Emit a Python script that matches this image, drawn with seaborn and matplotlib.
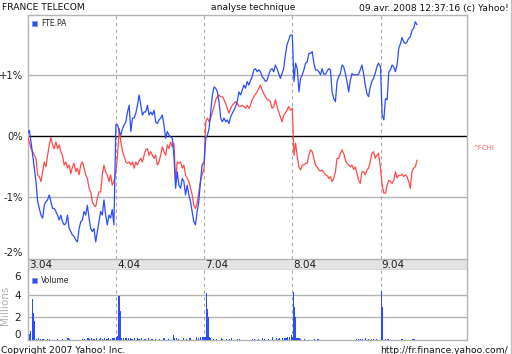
import matplotlib
matplotlib.use("Agg")
import matplotlib.pyplot as plt
import seaborn as sns
import pandas as pd
from matplotlib.patches import Rectangle
from matplotlib.lines import Line2D

# ---------------- data ----------------
day_labels = ["3.04", "4.04", "7.04", "8.04", "9.04"]
pct_ticks = [1, 0, -1, -2]
pct_tick_labels = ["+1%", "0%", "-1%", "-2%"]
vol_ticks = [0, 2, 4, 6]

# % change vs previous close, one sample every ~9.6 min of each session
fte_d1 = [0.05, 0.10, -0.09, -0.31, -0.52, -0.74, -1.07, -1.18, -1.29, -1.34,
          -1.13, -1.07, -1.04, -0.96, -1.07, -1.18, -1.18, -1.23, -1.29, -1.37,
          -1.29, -1.40, -1.45, -1.43, -1.29, -1.51, -1.56, -1.62, -1.64, -1.70,
          -1.73, -1.51, -1.40, -1.37, -1.23, -1.29, -1.13, -1.34, -1.51, -1.56,
          -1.51, -1.73, -1.56, -1.40, -1.23, -1.29, -1.04, -1.29, -1.45, -1.29,
          -1.34, -1.20, -1.45]
fte_d2 = [0.19, 0.19, 0.08, 0.02, 0.13, 0.19, 0.24, 0.40, 0.51, 0.08,
          0.30, 0.30, 0.38, 0.51, 0.68, 0.51, 0.35, 0.40, 0.40, 0.51,
          0.35, 0.40, 0.35, 0.43, 0.24, 0.21, 0.27, 0.30, 0.35, 0.19,
          -0.03, 0.08, 0.02, -0.01, -0.03, -0.31, -0.85, -0.58, -0.80, -0.85,
          -0.69, -0.74, -0.96, -0.80, -0.96, -1.07, -1.23, -1.40, -1.45, -1.23,
          -1.07, -0.74, -0.47]
fte_d3 = [-0.42, -0.03, 0.02, 0.13, 0.40, 0.68, 0.81, 0.79, 0.73, 0.57,
          0.30, 0.24, 0.30, 0.24, 0.27, 0.21, 0.32, 0.38, 0.43, 0.49,
          0.57, 0.73, 0.68, 0.76, 0.84, 0.79, 0.90, 0.84, 0.92, 0.98,
          1.09, 1.11, 1.06, 1.09, 1.06, 0.98, 0.95, 0.90, 0.92, 1.01,
          1.09, 1.11, 1.06, 1.17, 1.11, 1.03, 0.95, 1.03, 1.11, 1.33,
          1.50, 1.58, 1.66]
fte_d4 = [1.66, 0.90, 1.20, 1.11, 0.73, 0.95, 1.01, 1.09, 1.20, 1.22,
          1.36, 1.36, 1.39, 1.20, 1.09, 1.09, 1.06, 1.01, 1.11, 1.02,
          1.02, 1.07, 1.11, 1.09, 0.73, 0.62, 0.57, 0.90, 0.98, 1.03,
          1.17, 1.14, 1.03, 0.90, 0.73, 0.92, 1.03, 1.01, 1.01, 1.01,
          1.02, 1.09, 1.17, 1.03, 0.84, 0.70, 0.65, 0.81, 0.90, 0.95,
          1.03, 1.14, 1.20]
fte_d5 = [1.14, 0.35, 0.27, 0.62, 0.60, 1.06, 1.09, 1.17, 1.14, 1.06,
          1.17, 1.44, 1.52, 1.62, 1.55, 1.52, 1.55, 1.61, 1.63, 1.74,
          1.77, 1.88, 1.83]

fchi_d1 = [-0.01, -0.09, -0.20, -0.25, -0.31, -0.36, -0.63, -0.66, -0.74, -0.58,
           -0.42, -0.50, -0.31, -0.14, -0.02, -0.14, -0.20, -0.09, -0.20, -0.14,
           -0.25, -0.31, -0.47, -0.42, -0.52, -0.47, -0.61, -0.50, -0.44, -0.58,
           -0.52, -0.63, -0.47, -0.42, -0.52, -0.63, -0.69, -0.85, -0.91, -1.07,
           -1.13, -1.15, -1.02, -0.91, -0.91, -0.63, -0.47, -0.58, -0.63, -0.74,
           -0.63, -0.80, -0.74]
fchi_d2 = [-0.58, -0.31, 0.13, -0.09, -0.25, -0.33, -0.42, -0.44, -0.42, -0.47,
           -0.42, -0.52, -0.42, -0.47, -0.40, -0.36, -0.42, -0.31, -0.22, -0.20,
           -0.31, -0.25, -0.31, -0.36, -0.31, -0.47, -0.42, -0.31, -0.17, -0.25,
           -0.31, -0.14, -0.20, -0.09, -0.17, -0.11, -0.74, -0.42, -0.44, -0.42,
           -0.52, -0.47, -0.63, -0.69, -0.74, -0.85, -0.96, -1.13, -1.18, -1.10,
           -0.91, -0.74, -0.63]
fchi_d3 = [-0.52, 0.24, 0.30, 0.24, 0.30, 0.40, 0.49, 0.60, 0.65, 0.68,
           0.65, 0.65, 0.60, 0.54, 0.46, 0.38, 0.46, 0.51, 0.54, 0.57,
           0.54, 0.49, 0.49, 0.51, 0.49, 0.46, 0.51, 0.46, 0.51, 0.60,
           0.65, 0.69, 0.73, 0.79, 0.84, 0.76, 0.70, 0.65, 0.60, 0.60,
           0.57, 0.46, 0.49, 0.60, 0.49, 0.40, 0.32, 0.24, 0.35, 0.38,
           0.43, 0.49, 0.43]
fchi_d4 = [0.46, -0.31, -0.11, -0.33, -0.50, -0.55, -0.47, -0.47, -0.44, -0.44,
           -0.31, -0.22, -0.25, -0.36, -0.47, -0.50, -0.55, -0.57, -0.55, -0.59,
           -0.63, -0.64, -0.69, -0.66, -0.74, -0.69, -0.58, -0.36, -0.36, -0.28,
           -0.22, -0.28, -0.39, -0.44, -0.47, -0.50, -0.47, -0.54, -0.50, -0.61,
           -0.72, -0.77, -0.58, -0.58, -0.63, -0.55, -0.52, -0.42, -0.28, -0.25,
           -0.36, -0.31, -0.28]
fchi_d5 = [-0.52, -0.80, -0.93, -0.93, -0.80, -0.72, -0.74, -0.77, -0.72, -0.58,
           -0.68, -0.64, -0.64, -0.62, -0.66, -0.63, -0.66, -0.74, -0.85, -0.58,
           -0.52, -0.50, -0.39]

SAMPLE_STEP = 5 / 266  # fraction of a session between two price samples

# volume (millions) : session index, 5-minute slot within session, value
vol_day = ([0] * 32 + [1] * 35 + [2] * 33 + [3] * 20 + [4] * 10)
vol_slot = [1, 2, 3, 5, 6, 7, 10, 12, 14, 17, 22, 25, 34, 40, 46, 48, 63, 65, 69, 71,
            73, 76, 79, 82, 84, 86, 88, 91, 93, 95, 98, 100,
            0, 1, 3, 4, 5, 6, 8, 10, 12, 14, 16, 18, 21, 24, 26, 29, 33, 37, 41, 45,
            50, 55, 60, 66, 67, 69, 72, 78, 81, 85, 93, 95, 97, 99, 101,
            0, 1, 2, 3, 4, 6, 7, 10, 14, 19, 21, 25, 29, 31, 38, 40, 55, 58, 62, 67,
            69, 74, 78, 83, 85, 87, 90, 92, 94, 96, 98, 100, 101,
            0, 1, 2, 3, 4, 5, 7, 9, 13, 25, 29, 74, 76, 78, 81, 84, 87, 91, 93, 97,
            0, 1, 2, 5, 8, 24, 25, 36, 37, 38]
vol_m = [0.2, 0.5, 0.8, 3.6, 2.4, 1.7, 0.1, 0.15, 0.1, 0.1, 0.1, 0.1, 0.1, 0.1, 0.15, 0.1, 0.1, 0.1, 0.15, 0.1,
         0.15, 0.1, 0.15, 0.1, 0.15, 0.1, 0.15, 0.1, 0.15, 0.1, 0.15, 0.2,
         0.3, 0.35, 3.9, 2.6, 1.9, 0.2, 0.15, 0.2, 0.15, 0.2, 0.15, 0.1, 0.15, 0.2, 0.1, 0.15, 0.1, 0.15, 0.1, 0.1,
         0.1, 0.15, 0.1, 0.45, 0.2, 0.15, 0.1, 0.15, 0.1, 0.2, 0.25, 0.2, 0.3, 0.25, 0.3,
         0.25, 0.25, 4.1, 2.7, 2.0, 0.25, 0.15, 0.1, 0.1, 0.15, 0.1, 0.1, 0.1, 0.15, 0.1, 0.1, 0.1, 0.1, 0.1, 0.15,
         0.1, 0.1, 0.3, 0.15, 0.1, 0.15, 0.2, 0.15, 0.2, 0.25, 0.3, 0.45, 0.3,
         0.3, 4.2, 2.9, 2.0, 0.2, 0.15, 0.2, 0.1, 0.1, 0.1, 0.1, 0.1, 0.1, 0.1, 0.1, 0.15, 0.1, 0.1, 0.1, 0.1,
         4.3, 2.9, 2.4, 0.1, 0.1, 0.1, 0.1, 0.1, 0.1, 0.1]
SLOTS_PER_DAY = 102

# ---------------- build tables ----------------
rows = []
for name, days in [("FTE.PA", [fte_d1, fte_d2, fte_d3, fte_d4, fte_d5]),
                   ("^FCHI", [fchi_d1, fchi_d2, fchi_d3, fchi_d4, fchi_d5])]:
    for d, vals in enumerate(days):
        for i, v in enumerate(vals):
            rows.append({"t": d + i * SAMPLE_STEP, "pct": v, "serie": name})
df = pd.DataFrame(rows)
vol_df = pd.DataFrame({"t": [d + s / SLOTS_PER_DAY for d, s in zip(vol_day, vol_slot)],
                       "vol": vol_m})

# ---------------- style ----------------
sns.set_theme(style="white")
plt.rcParams["font.family"] = ["DejaVu Sans"]
BLUE = "#2a4dff"
RED = "#ff4a4a"
GRID = "#b4b4b4"
DASH = "#a8a8a8"

W, H = 512, 354
fig = plt.figure(figsize=(W / 100, H / 100), dpi=100)
fig.patch.set_facecolor("white")

def fx(x):
    return x / W

def fy(y):
    return 1 - y / H

L, R = 27.7, 467.0
ax = fig.add_axes([fx(L), fy(259), fx(R) - fx(L), (259 - 15) / H])
axb = fig.add_axes([fx(L), fy(270), fx(R) - fx(L), 11 / H])
axv = fig.add_axes([fx(L), fy(340), fx(R) - fx(L), 70 / H])

PX_PER_DAY = 88.2
XMAX = (R - L) / PX_PER_DAY

# ---- main price panel ----
sns.lineplot(data=df, x="t", y="pct", hue="serie", palette={"FTE.PA": BLUE, "^FCHI": RED},
             hue_order=["^FCHI", "FTE.PA"], estimator=None, sort=False, legend=False,
             linewidth=0.9, ax=ax, zorder=3)
ax.set_xlim(0, XMAX)
ax.set_ylim(-2.01, 1.99)
ax.set_xlabel("")
ax.set_ylabel("")
for yv in (1, -1):
    ax.axhline(yv, color=GRID, lw=1.0, zorder=1)
ax.axhline(0, color="black", lw=1.0, zorder=2)
for d in range(1, 5):
    ax.axvline(d, color=DASH, lw=0.8, ls=(0, (3, 3)), zorder=1)
ax.set_xticks([])
ax.set_yticks(pct_ticks)
ax.set_yticklabels(pct_tick_labels)
ax.tick_params(axis="y", length=0, pad=3.5, labelsize=7.2, labelcolor="#222222")
ax.get_yticklabels()[3].set_va("bottom")
for s in ("left", "right", "top"):
    ax.spines[s].set_color(GRID)
    ax.spines[s].set_linewidth(1.0)
ax.spines["bottom"].set_visible(False)

ax.text(1.012, 0.455, "^FCHI", transform=ax.transAxes, fontsize=5, color="#ff6060",
        va="center", ha="left", clip_on=False)

# ---- date band ----
axb.set_facecolor("#e4e4e4")
axb.set_xlim(0, XMAX)
axb.set_ylim(0, 1)
axb.set_xticks([])
axb.set_yticks([])
for s in axb.spines.values():
    s.set_color(GRID)
    s.set_linewidth(1.0)
for d, lab in enumerate(day_labels):
    axb.text(d + 0.012, 0.42, lab, fontsize=7.5, color="#222222", ha="left", va="center")

# ---- volume panel ----
axv.bar(vol_df["t"], vol_df["vol"], width=1.15 / PX_PER_DAY, align="edge",
        color=BLUE, linewidth=0, antialiased=False, zorder=3)
axv.set_xlim(0, XMAX)
axv.set_ylim(0, 6.17)
for yv in (2, 4):
    axv.axhline(yv, color=GRID, lw=1.0, zorder=1)
for d in range(0, 5):
    axv.axvline(d, color=DASH, lw=0.8, ls=(0, (3, 3)), zorder=1)
axv.set_xticks([])
axv.set_yticks(vol_ticks)
axv.set_yticklabels([str(v) for v in vol_ticks])
axv.tick_params(axis="y", length=0, pad=5, labelsize=7.5, labelcolor="#222222")
axv.get_yticklabels()[0].set_va("bottom")
axv.get_yticklabels()[3].set_va("top")
axv.set_ylabel("Millions", fontsize=7.5, color="#b0b0b0")
axv.yaxis.set_label_coords((10 - L) / (R - L), 0.5)
for s in ("left", "right", "bottom"):
    axv.spines[s].set_color(GRID)
    axv.spines[s].set_linewidth(1.0)
axv.spines["top"].set_visible(False)

# ---- legends ----
for (x0, y0, txt) in [(32, 21, "FTE.PA"), (32, 277.5, "Volume")]:
    fig.patches.append(Rectangle((fx(x0), fy(y0 + 5)), 5 / W, 5 / H, transform=fig.transFigure,
                                 facecolor=BLUE, edgecolor="#8a9ad8", lw=0.6))
    fig.text(fx(41), fy(y0 + 2.6), txt, fontsize=5.5, color="#222222", va="center", ha="left")

# ---- header / footer ----
fig.text(fx(2), fy(7), "FRANCE TELECOM", fontsize=6.6, color="#111111", va="center", ha="left")
fig.text(fx(253.5), fy(8), "analyse technique", fontsize=6.6, color="#111111", va="center", ha="center")
fig.text(fx(509), fy(8), "09.avr..2008 12:37:16 (c) Yahoo!", fontsize=6.6, color="#111111",
         va="center", ha="right")
fig.text(fx(1), fy(350.5), "Copyright 2007 Yahoo! Inc.", fontsize=6.6, color="#111111",
         va="center", ha="left")
fig.text(fx(508), fy(350.5), "http://fr.finance.yahoo.com/", fontsize=6.6, color="#111111",
         va="center", ha="right")

# figure frame
fig.lines.append(Line2D([fx(510.5), fx(510.5)], [0, 1], transform=fig.transFigure,
                        color="#c0c0c0", lw=1.0))

fig.savefig("out.png", dpi=100, facecolor="white")
